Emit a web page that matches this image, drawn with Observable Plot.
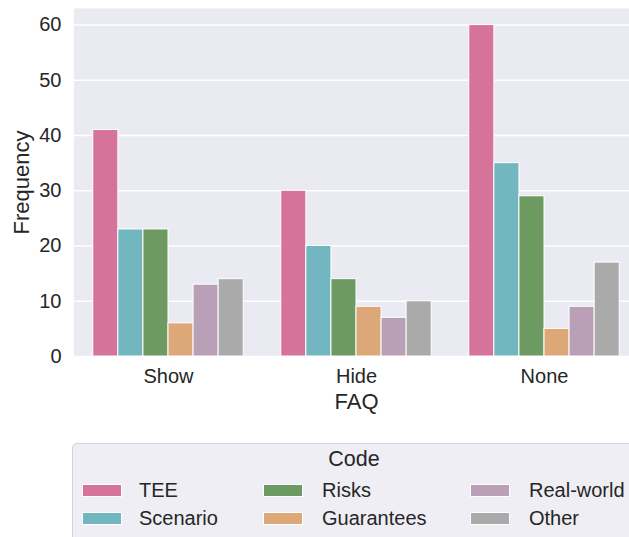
<!DOCTYPE html>
<html>
<head>
<meta charset="utf-8">
<script src="https://cdn.jsdelivr.net/npm/d3@7"></script>
<script src="https://cdn.jsdelivr.net/npm/@observablehq/plot@0.6"></script>
<style>
  html, body { margin: 0; padding: 0; background: white; overflow: hidden; }
  #wrap { position: relative; width: 629px; height: 537px; overflow: hidden; font-family: "Liberation Sans", Arial, sans-serif; color: #262626; }
  #chart { position: absolute; left: 0; top: 0; width: 638px; }
  #chart svg { max-width: none !important; }
  #legend { position: absolute; left: 72px; top: 443px; width: 562px; height: 110px; background: #EEEEF4; border: 1px solid #D4D4D8; border-radius: 5px; box-sizing: border-box; }
  .ltitle { position: absolute; font-size: 21.5px; line-height: 1; transform: translate(-50%, -50%); white-space: nowrap; }
  .sw { position: absolute; width: 40px; height: 13px; box-sizing: border-box; border: 1px solid white; }
  .lt { position: absolute; font-size: 20px; line-height: 1; transform: translateY(-50%); white-space: nowrap; }
</style>
</head>
<body>
<div id="wrap">
  <div id="chart"></div>
  <div id="legend"></div>
</div>
<script>
const groups = ["Show", "Hide", "None"];
const codes = ["TEE", "Scenario", "Risks", "Guarantees", "Real-world", "Other"];
const colors = ["#D6739B", "#72B6BF", "#6D9A60", "#DDA878", "#B9A0B6", "#AAAAAA"];
const showVals = [41, 23, 23, 6, 13, 14];
const hideVals = [30, 20, 14, 9, 7, 10];
const noneVals = [60, 35, 29, 5, 9, 17];
const yTicks = [0, 10, 20, 30, 40, 50, 60];
const legendTitle = "Code";

const series = [showVals, hideVals, noneVals];
const data = groups.flatMap((g, i) => codes.map((c, j) => ({group: g, code: c, value: series[i][j]})));

const chart = Plot.plot({
  width: 638,
  height: 420,
  marginLeft: 74,
  marginRight: 0,
  marginTop: 8,
  marginBottom: 64,
  style: {fontFamily: "'Liberation Sans', Arial, sans-serif", fontSize: "20px", color: "#262626", background: "white", overflow: "visible", maxWidth: "none"},
  fx: {domain: groups, padding: 0, round: true},
  x: {domain: codes, paddingInner: 0, paddingOuter: 0.75, round: false, axis: null},
  y: {domain: [0, 63]},
  color: {domain: codes, range: colors},
  marks: [
    Plot.frame({fill: "#EAEAF2", stroke: null, insetLeft: -0.5, insetRight: -0.5}),
    Plot.gridY(yTicks, {stroke: "white", strokeOpacity: 1, strokeWidth: 1.5, insetLeft: -0.5, insetRight: -0.5}),
    Plot.barY(data, {fx: "group", x: "code", y: "value", fill: "code", stroke: "white", strokeWidth: 1}),
    Plot.axisY(yTicks, {tickSize: 0, tickPadding: 13, fontSize: 20, label: null}),
    Plot.axisY([], {label: "Frequency", labelAnchor: "center", labelOffset: 61, fontSize: 22, labelArrow: "none"}),
    Plot.axisFx({anchor: "bottom", tickSize: 0, tickPadding: 12, fontSize: 20, label: null}),
    Plot.axisFx([], {anchor: "bottom", label: "FAQ", labelAnchor: "center", labelOffset: 52, fontSize: 22, labelArrow: "none"})
  ]
});
document.getElementById("chart").appendChild(chart);

// legend (positions in wrap coordinates)
const wrap = document.getElementById("wrap");
const t = document.createElement("div");
t.className = "ltitle";
t.textContent = legendTitle;
t.style.left = "354px";
t.style.top = "460px";
wrap.appendChild(t);
const colSw = [82, 263, 470];
const colTx = [139, 322, 529];
const rowY = [490, 518];
codes.forEach((c, i) => {
  const col = Math.floor(i / 2), row = i % 2;
  const s = document.createElement("div");
  s.className = "sw";
  s.style.background = colors[i];
  s.style.left = colSw[col] + "px";
  s.style.top = (rowY[row] - 6.5) + "px";
  wrap.appendChild(s);
  const l = document.createElement("div");
  l.className = "lt";
  l.textContent = c;
  l.style.left = colTx[col] + "px";
  l.style.top = rowY[row] + "px";
  wrap.appendChild(l);
});
</script>
</body>
</html>
